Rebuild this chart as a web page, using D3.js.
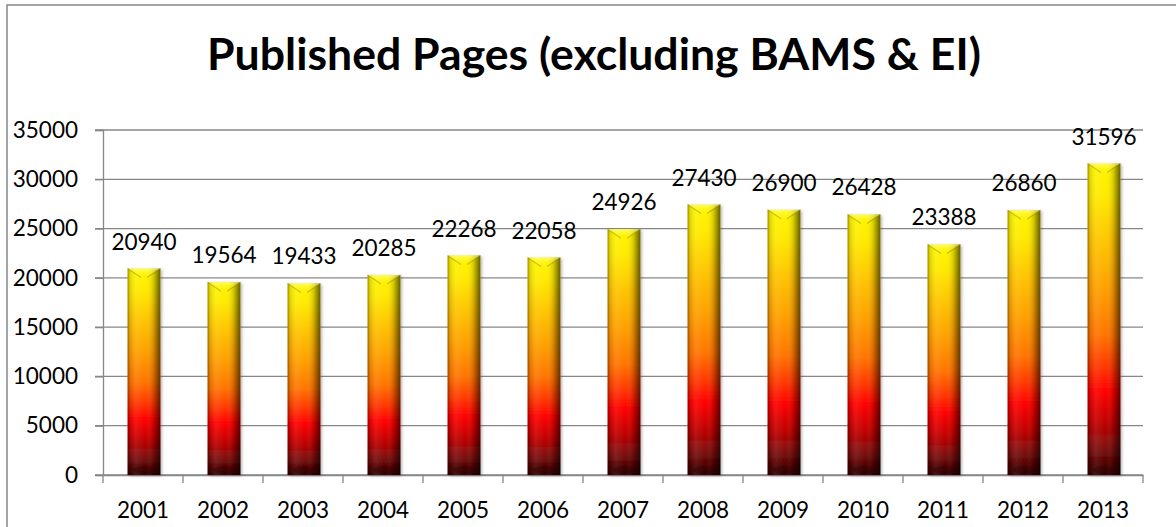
<!DOCTYPE html>
<html>
<head>
<meta charset="utf-8">
<script src="https://cdn.jsdelivr.net/npm/d3@7/dist/d3.min.js"></script>
<style>
  html, body { margin: 0; padding: 0; background: #fff; }
  svg { display: block; }
  text { font-family: Lato, "Open Sans", sans-serif; fill: #000; }
</style>
</head>
<body>
<svg id="chart" width="1176" height="527"></svg>
<script>
// Published pages per year
const years = ["2001","2002","2003","2004","2005","2006","2007","2008","2009","2010","2011","2012","2013"];
const pages = [20940, 19564, 19433, 20285, 22268, 22058, 24926, 27430, 26900, 26428, 23388, 26860, 31596];
const yTicks = [0, 5000, 10000, 15000, 20000, 25000, 30000, 35000];
const titleText = "Published Pages (excluding BAMS & EI)";

const W = 1176, H = 527;
const margin = { left: 103, right: 33, top: 130, bottom: 52 };
const labelSize = "22.5px";
const svg = d3.select("#chart");

// outer chart frame (runs off the right and bottom of the view)
svg.append("rect")
  .attr("x", 7).attr("y", 5)
  .attr("width", W + 40).attr("height", H + 40)
  .attr("fill", "#fff").attr("stroke", "#878787").attr("stroke-width", 1.5);

const x = d3.scaleBand().domain(years).range([margin.left, W - margin.right]).paddingInner(0).paddingOuter(0);
const y = d3.scaleLinear().domain([0, 35000]).range([H - margin.bottom, margin.top]);

// gradients for the bevelled bars
const defs = svg.append("defs");
const vGrad = defs.append("linearGradient").attr("id", "barV")
  .attr("x1", 0).attr("y1", 0).attr("x2", 0).attr("y2", 1);
[[0, "#fff500"], [0.1, "#ffea00"], [0.25, "#ffc400"], [0.4, "#ffa000"], [0.55, "#ff7400"],
 [0.65, "#ff3800"], [0.73, "#ff0000"], [0.82, "#c80000"], [0.9, "#8a0a0a"], [0.97, "#4a0404"], [1, "#380303"]]
  .forEach(([o, c]) => vGrad.append("stop").attr("offset", o).attr("stop-color", c));

const hGrad = defs.append("linearGradient").attr("id", "barH")
  .attr("x1", 0).attr("y1", 0).attr("x2", 1).attr("y2", 0);
[[0, "#000", 0.4], [0.08, "#000", 0.1], [0.25, "#fff", 0.08], [0.55, "#fff", 0.0],
 [0.78, "#000", 0.15], [0.9, "#000", 0.4], [1, "#000", 0.6]]
  .forEach(([o, c, a]) => hGrad.append("stop").attr("offset", o).attr("stop-color", c).attr("stop-opacity", a));

const capGrad = defs.append("linearGradient").attr("id", "cap")
  .attr("x1", 0).attr("y1", 0).attr("x2", 0).attr("y2", 1);
[[0, "#ffffa0", 0.6], [1, "#ffff00", 0.0]]
  .forEach(([o, c, a]) => capGrad.append("stop").attr("offset", o).attr("stop-color", c).attr("stop-opacity", a));

const shadow = defs.append("filter").attr("id", "shadow")
  .attr("x", "-30%").attr("y", "-10%").attr("width", "160%").attr("height", "120%");
shadow.append("feDropShadow").attr("dx", 1.5).attr("dy", 1).attr("stdDeviation", 1.5)
  .attr("flood-color", "#555").attr("flood-opacity", 0.45);

// title, fitted to its line
const title = svg.append("text")
  .attr("x", 594).attr("y", 70)
  .attr("text-anchor", "middle")
  .style("font-weight", "700")
  .style("font-size", "40px")
  .text(titleText);
const tw = title.node().getComputedTextLength();
title.style("font-size", (40 * 774 / tw).toFixed(2) + "px");

// horizontal gridlines
svg.append("g").selectAll("line").data(yTicks).join("line")
  .attr("x1", margin.left - 8).attr("x2", W - margin.right)
  .attr("y1", d => y(d)).attr("y2", d => y(d))
  .attr("stroke", "#878787").attr("stroke-width", 1.3);

// value axis
const yAxis = svg.append("g").attr("transform", `translate(${margin.left},0)`)
  .call(d3.axisLeft(y).tickValues(yTicks).tickFormat(d3.format("d")).tickSize(8).tickPadding(17));
yAxis.select(".domain").attr("stroke", "#878787").attr("stroke-width", 1.3);
yAxis.selectAll(".tick line").attr("stroke", "#878787").attr("stroke-width", 1.3);
yAxis.selectAll(".tick text").style("font-size", labelSize).style("font-family", "Lato, sans-serif").attr("fill", "#000");

// category axis
const xAxis = svg.append("g").attr("transform", `translate(0,${y(0)})`)
  .call(d3.axisBottom(x).tickSize(0).tickPadding(27));
xAxis.select(".domain").attr("stroke", "#878787").attr("stroke-width", 1.3);
xAxis.selectAll(".tick text").style("font-size", labelSize).style("font-family", "Lato, sans-serif").attr("fill", "#000");
// category boundary ticks
const bounds = years.map(d => x(d)).concat([x(years[years.length - 1]) + x.bandwidth()]);
xAxis.append("g").selectAll("line").data(bounds).join("line")
  .attr("x1", d => d).attr("x2", d => d).attr("y1", 0).attr("y2", 8)
  .attr("stroke", "#878787").attr("stroke-width", 1.3);

// bars
const bw = x.bandwidth() * 0.41;
const bars = svg.append("g").selectAll("g").data(years.map((d, i) => ({ year: d, v: pages[i] }))).join("g")
  .attr("transform", d => `translate(${x(d.year) + (x.bandwidth() - bw) / 2 + 1},0)`);

bars.append("rect")
  .attr("x", 0).attr("width", bw)
  .attr("y", d => y(d.v)).attr("height", d => y(0) - y(d.v))
  .attr("fill", "url(#barV)").attr("filter", "url(#shadow)");
bars.append("rect")
  .attr("x", 0).attr("width", bw)
  .attr("y", d => y(d.v)).attr("height", d => y(0) - y(d.v))
  .attr("fill", "url(#barH)");
// top bevel facet
const bev = 9;
bars.append("path")
  .attr("d", d => {
    const t = y(d.v);
    return `M0,${t}L${bw},${t}L${bw / 2 + 3},${t + bev}L${bw / 2 - 3},${t + bev}Z`;
  })
  .attr("fill", "url(#cap)");
bars.append("path")
  .attr("d", d => {
    const t = y(d.v);
    return `M0,${t}L${bw / 2 - 3},${t + bev}M${bw},${t}L${bw / 2 + 3},${t + bev}`;
  })
  .attr("stroke", "#7a6a00").attr("stroke-opacity", 0.35).attr("stroke-width", 1.2).attr("fill", "none");
// bottom bevel shade
bars.append("ellipse")
  .attr("cx", bw / 2).attr("cy", y(0) - 5).attr("rx", bw / 2 - 5).attr("ry", 4)
  .attr("fill", "#200000").attr("opacity", 0.3);

// value labels
bars.append("text")
  .attr("x", bw / 2).attr("y", d => y(d.v) - 19)
  .attr("text-anchor", "middle")
  .style("font-size", labelSize)
  .text(d => d.v);
</script>
</body>
</html>
